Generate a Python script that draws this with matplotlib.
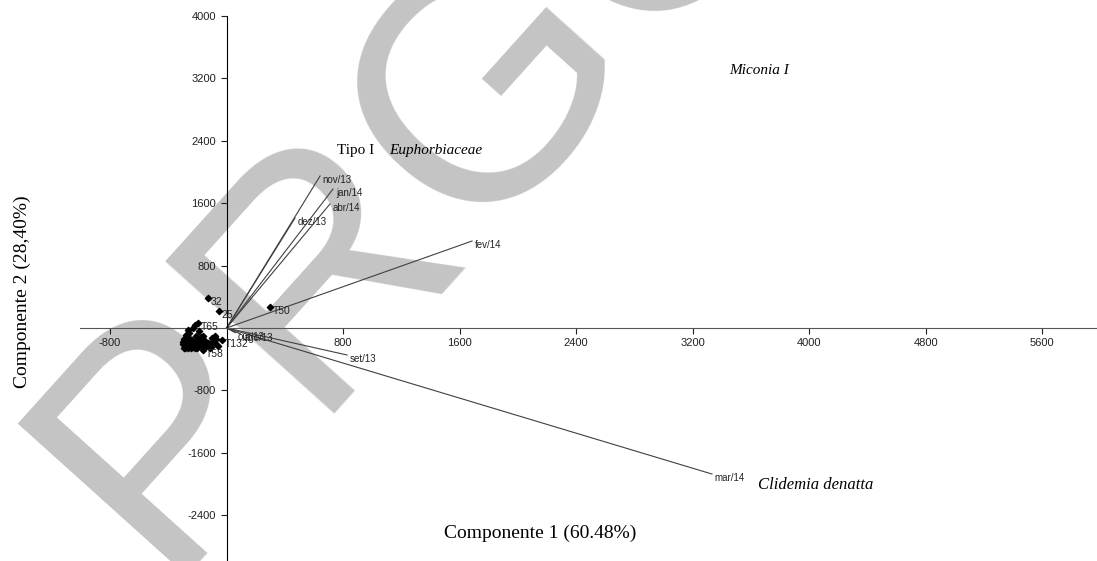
import matplotlib
matplotlib.use("Agg")
import matplotlib.pyplot as plt

plt.rcParams["axes.unicode_minus"] = False

# month loadings (vectors drawn from the origin)
months = ["nov/13", "jan/14", "abr/14", "dez/13", "fev/14", "set/13", "mar/14", "out/13", "ago/13"]
month_x = [642, 731, 710, 470, 1685, 827, 3332, 60, 95]
month_y = [1949, 1782, 1590, 1410, 1115, -346, -1872, -60, -75]

# species scores
pt_x = [299, -126, -51, -196, -230, -257, -278, -292, -271, -251, -223, -202, -182,
        -161, -148, -127, -100, -79, -58, -113, -161, -285, -299, -237, -209, -189,
        -264, -216, -79, -31, -148, -182, -264, -244, -230, -216, -202, -271, -285,
        -299, -292, -278, -264, -251, -237, -223, -209, -195, -175, -292, -278, -257,
        -244, -230, -216, -202, -188, -168, -120, -96, -72, -140, -110]
pt_y = [269, 385, 218, 64, 0, -64, -128, -167, -192, -218, -231, -205, -154,
        -103, -167, -192, -128, -192, -231, -256, -282, -231, -205, -154, -103, -38,
        -26, 38, -103, -154, -244, -218, -256, -256, -244, -256, -256, -244, -256,
        -180, -140, -90, -110, -150, -180, -190, -170, -140, -120, -250, -200, -180,
        -200, -215, -225, -230, -200, -215, -210, -170, -140, -230, -240]
pt_labels = {0: "T50", 1: "32", 2: "25", 3: "T65", 29: "T132", 20: "T58"}

xticks = [-800, 800, 1600, 2400, 3200, 4000, 4800, 5600]
yticks = [-2400, -1600, -800, 800, 1600, 2400, 3200, 4000]

fig = plt.figure(figsize=(10.97, 5.61), dpi=100)
ax = fig.add_axes([0, 0, 1, 1])
ax.set_xlim(-1555, 5975)
ax.set_ylim(-2987, 4205)

# watermark behind everything, anchored at the start of its baseline
ax.text(0.146, -0.026, "PRGG", transform=ax.transAxes, fontsize=238,
        family="Liberation Sans", color="#c4c4c4", rotation=48,
        rotation_mode="anchor", ha="left", va="baseline", zorder=0)

for s in ["top", "right"]:
    ax.spines[s].set_visible(False)
ax.spines["left"].set_position(("data", 0))
ax.spines["bottom"].set_position(("data", 0))
ax.spines["left"].set_bounds(-3000, 4000)
ax.spines["bottom"].set_bounds(-1005, 6000)
ax.spines["left"].set_color("black")
ax.spines["bottom"].set_color("#555555")
ax.set_xticks(xticks)
ax.set_yticks(yticks)
ax.tick_params(labelsize=8, length=4, width=0.8, colors="#222222",
               labelfontfamily="Liberation Sans")

for name, x, y in zip(months, month_x, month_y):
    ax.plot([0, x], [0, y], color="#404040", lw=0.8, zorder=2)
    ax.annotate(name, (x, y), xytext=(2, -5), textcoords="offset points",
                fontsize=7, family="Liberation Sans", color="#222222", zorder=4)

ax.scatter(pt_x, pt_y, s=10, marker="D", color="black", zorder=3)
for i, lab in pt_labels.items():
    ax.annotate(lab, (pt_x[i], pt_y[i]), xytext=(2, -5), textcoords="offset points",
                fontsize=7.5, family="Liberation Sans", color="#222222", zorder=4)

serif = "Liberation Serif"
ax.text(3450, 3250, "Miconia I", fontsize=11, style="italic", family=serif)
ax.text(760, 2230, "Tipo I ", fontsize=11, family=serif)
ax.text(1115, 2230, "Euphorbiaceae", fontsize=11, style="italic", family=serif)
ax.text(3650, -2060, "Clidemia denatta", fontsize=12, style="italic", family=serif)
ax.text(0.492, 0.05, "Componente 1 (60.48%)", transform=ax.transAxes, fontsize=14,
        family=serif, ha="center", va="center")
ax.text(0.02, 0.48, "Componente 2 (28,40%)", transform=ax.transAxes, fontsize=14,
        family=serif, ha="center", va="center", rotation=90)

fig.savefig("out.png", dpi=100)
